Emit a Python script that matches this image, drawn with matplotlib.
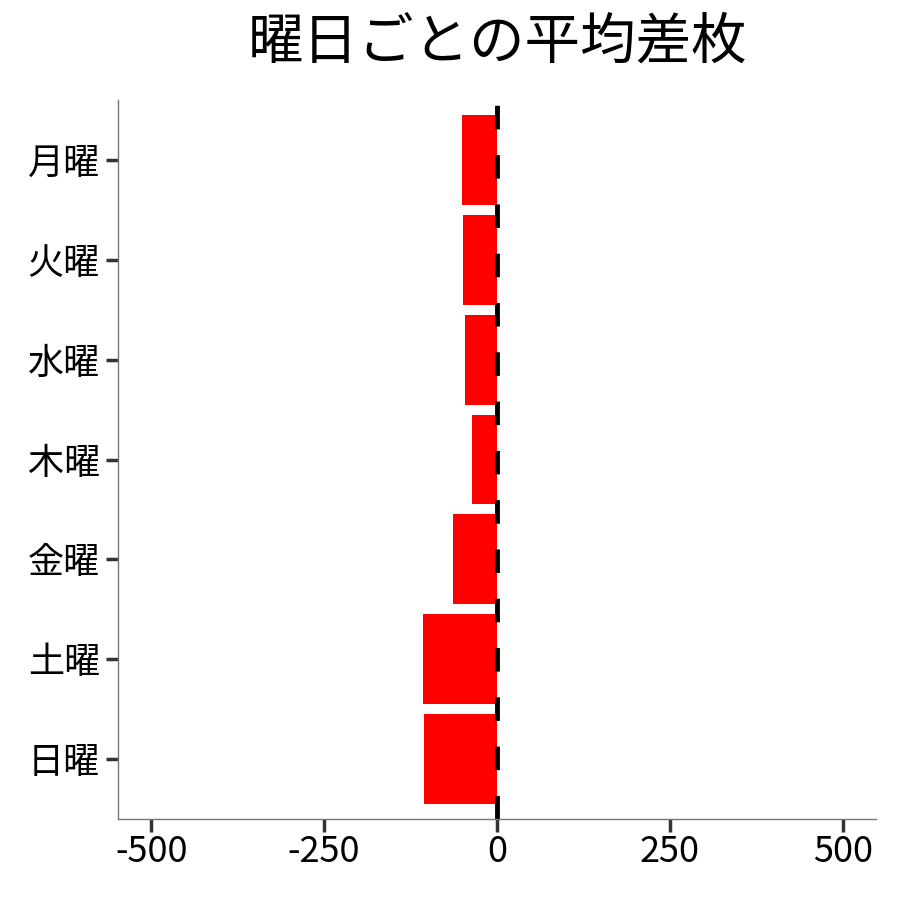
import matplotlib
matplotlib.use('Agg')
import matplotlib.pyplot as plt

plt.rcParams['font.family'] = ['Noto Sans CJK JP', 'DejaVu Sans']
plt.rcParams['axes.unicode_minus'] = False

# データ
days = ['月曜', '火曜', '水曜', '木曜', '金曜', '土曜', '日曜']
avg_diff = [-51, -49, -46, -36, -64, -107, -106]
xticks = [-500, -250, 0, 250, 500]

fig = plt.figure(figsize=(9, 9), dpi=100)
ax = fig.add_axes([118 / 900, 81 / 900, 758 / 900, 719 / 900])

ax.barh(range(len(days)), avg_diff, height=0.9, color='#ff0000')
ax.axvline(0, color='black', lw=3.5, linestyle=(0, (4.86, 5.28)))

ax.set_xlim(-548, 548)
ax.set_ylim(len(days) - 0.4, -0.6)
ax.set_yticks(range(len(days)))
ax.set_yticklabels(days)
ax.set_xticks(xticks)
ax.set_xticklabels([str(t) for t in xticks])

ax.tick_params(axis='both', direction='out', length=9, width=2.5,
               color='#333333', labelsize=26, labelcolor='black', pad=4)
ax.tick_params(axis='x', pad=2)

for side in ['top', 'right']:
    ax.spines[side].set_visible(False)
for side in ['left', 'bottom']:
    ax.spines[side].set_color('#777777')
    ax.spines[side].set_linewidth(1)

fig.text(497 / 900, 1 - 43 / 900, '曜日ごとの平均差枚', fontsize=40,
         ha='center', va='center')

fig.savefig('out.png', dpi=100)
